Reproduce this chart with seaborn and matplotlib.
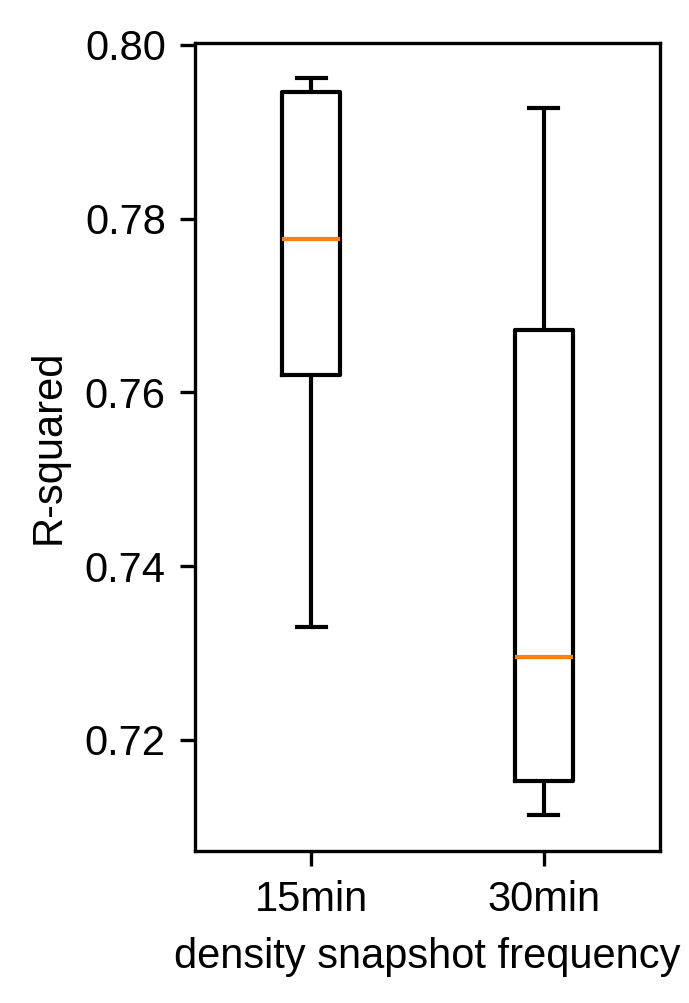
import matplotlib
matplotlib.use("Agg")
import matplotlib.pyplot as plt
import seaborn as sns
import pandas as pd

plt.rcParams['font.family'] = ['Liberation Sans', 'DejaVu Sans']

categories = ["15min", "30min"]
# five values per group: lower whisker, Q1, median, Q3, upper whisker
r2_15min = [0.7330, 0.7620, 0.7776, 0.7946, 0.7962]
r2_30min = [0.7114, 0.7153, 0.7295, 0.7672, 0.7927]

df = pd.DataFrame({
    "freq": [categories[0]] * len(r2_15min) + [categories[1]] * len(r2_30min),
    "r2": r2_15min + r2_30min,
})

fig = plt.figure(figsize=(689 / 300, 1003 / 300), dpi=300)
ax = fig.add_axes([195 / 689, (1003 - 851) / 1003, 465 / 689, 808 / 1003])

sns.boxplot(data=df, x="freq", y="r2", order=categories, ax=ax,
            width=0.25, fill=False, color="black", linecolor="black",
            linewidth=1.0, whis=1.5,
            medianprops=dict(color="#ff7f0e", linewidth=1.0))

ax.set_xlim(-0.5, 1.5)
ax.set_ylim(0.7072, 0.8002)
ax.set_yticks([0.72, 0.74, 0.76, 0.78, 0.80])
ax.set_yticklabels(["0.72", "0.74", "0.76", "0.78", "0.80"])
ax.set_xlabel("density snapshot frequency", fontsize=10)
ax.set_ylabel("R-squared", fontsize=10)
ax.tick_params(labelsize=10)

fig.savefig("out.png", dpi=300)
